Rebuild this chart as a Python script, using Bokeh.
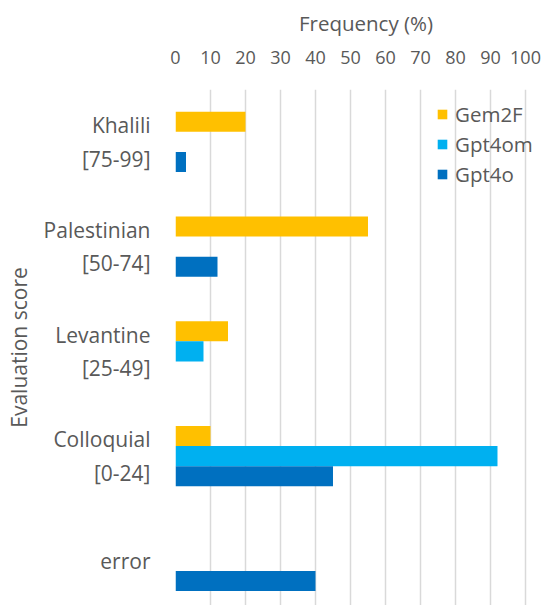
from bokeh.plotting import figure
from bokeh.models import ColumnDataSource, Range1d, FixedTicker, Legend
from bokeh.transform import dodge
from bokeh.embed import file_html
from bokeh.resources import INLINE

categories = ["Khalili\n[75-99]", "Palestinian\n[50-74]", "Levantine\n[25-49]", "Colloquial\n[0-24]", "error"]
gem2f = [20, 55, 15, 10, 0]
gpt4om = [0, 0, 8, 92, 0]
gpt4o = [3, 12, 0, 45, 40]
x_ticks = [0, 10, 20, 30, 40, 50, 60, 70, 80, 90, 100]

FONT = "Open Sans"
TXT = "#595959"

pos = list(range(len(categories)))
src = ColumnDataSource(dict(y=pos, gem2f=gem2f, gpt4om=gpt4om, gpt4o=gpt4o))

p = figure(width=556, height=605, output_backend="svg", toolbar_location=None,
           x_range=Range1d(0, 108.86), y_range=Range1d(4.426, -0.5),
           x_axis_location="above",
           min_border_left=175, min_border_top=89, min_border_right=0, min_border_bottom=0)

bh = 0.191
series = [("Gem2F", "gem2f", "#FFC000", -bh), ("Gpt4om", "gpt4om", "#00B0F0", 0.0), ("Gpt4o", "gpt4o", "#0070C0", bh)]
items = []
for name, col, color, off in series:
    r = p.hbar(y=dodge("y", off, range=p.y_range), right=col, left=0, height=bh,
               source=src, fill_color=color, line_color=None)
    items.append((name, [r]))

legend = Legend(items=items, location=(261, 417), padding=0, spacing=2,
                glyph_width=12, glyph_height=12, label_standoff=7,
                label_text_font=FONT, label_text_font_size="20.5px", label_text_color=TXT,
                border_line_color=None, background_fill_alpha=0)
p.add_layout(legend, "center")

xa = p.xaxis[0]
xa.ticker = FixedTicker(ticks=x_ticks)
xa.axis_line_color = None
xa.major_tick_line_color = None
xa.minor_tick_line_color = None
xa.major_label_text_font = FONT
xa.major_label_text_font_size = "18px"
xa.major_label_text_color = TXT
xa.major_label_standoff = 20
xa.axis_label = "Frequency (%)"
xa.axis_label_text_font = FONT
xa.axis_label_text_font_size = "20.5px"
xa.axis_label_text_font_style = "normal"
xa.axis_label_text_color = TXT
xa.axis_label_standoff = 11

ya = p.yaxis[0]
ya.ticker = FixedTicker(ticks=pos)
ya.major_label_overrides = {i: c for i, c in zip(pos, categories)}
ya.axis_line_color = None
ya.major_tick_line_color = None
ya.minor_tick_line_color = None
ya.major_label_text_font = FONT
ya.major_label_text_font_size = "21px"
ya.major_label_text_color = TXT
ya.major_label_standoff = 19
ya.axis_label = "Evaluation score"
ya.axis_label_text_font = FONT
ya.axis_label_text_font_size = "21px"
ya.axis_label_text_font_style = "normal"
ya.axis_label_text_color = TXT
ya.axis_label_standoff = 8

p.xgrid.grid_line_color = "#D9D9D9"
p.xgrid.grid_line_width = 1.5
p.ygrid.grid_line_color = None
p.outline_line_color = None

open("out.html", "w").write(file_html(p, INLINE))
